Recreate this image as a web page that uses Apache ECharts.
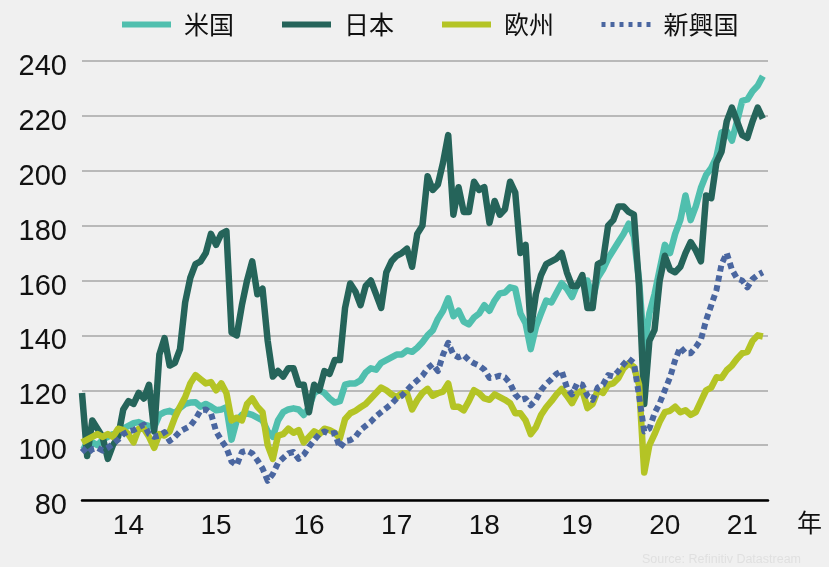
<!DOCTYPE html>
<html>
<head>
<meta charset="utf-8">
<style>
  html, body { margin: 0; padding: 0; background: #f0f0f0; }
  #chart { width: 829px; height: 567px; }
</style>
<script src="https://cdn.jsdelivr.net/npm/echarts@6/dist/echarts.min.js"></script>
</head>
<body>
<div id="chart"></div>
<script>
// Stock indices, rebased (start of 2014 ≈ 100), sampled every three weeks
const seriesNames = ['米国', '日本', '欧州', '新興国'];
const yearTicks = [2014, 2015, 2016, 2017, 2018, 2019, 2020, 2021];

const usValues = [
  100, 99, 101, 100, 102, 103, 104, 104, 106, 107, 108, 108.4, 107.5, 107, 106.5, 111, 112, 112.5, 111.6, 113.5,
  115, 115.5, 115.6, 114, 115, 114, 112.7, 113, 113.8, 102, 109, 111, 111.6, 111, 110, 109, 105, 103, 109, 112,
  113, 113.4, 113, 111, 113.8, 119, 120, 119, 117, 115.5, 116, 122, 122.5, 122.5, 123.6, 126.5, 128, 127.5, 130, 131,
  132, 133, 133, 134.5, 134, 135.5, 137.5, 140, 141.8, 146, 149, 153.5, 147, 149, 145, 144, 146.5, 148, 151, 149,
  152.7, 155.3, 155.6, 157.5, 157, 148, 144.4, 135, 143, 148, 152.7, 152, 155.5, 159, 157, 154, 158.5, 160, 160, 153,
  161, 164, 168, 171, 174, 177, 180.7, 176, 160, 135, 148, 155, 164, 173, 170, 177, 182, 191, 182, 187,
  193.8, 198.5, 201, 205, 214, 214.5, 211, 218, 225.5, 226, 229, 231, 234.5
];

const japanValues = [
  119, 96, 109, 106, 103, 95, 100, 103, 113, 116, 115, 119, 117, 122, 105, 133, 139, 129, 130, 135,
  152, 161, 166, 167, 170, 177, 173, 177, 178, 141, 140, 151, 160, 167, 155, 157, 138, 125, 127, 125,
  128, 128, 122, 122, 112, 122, 120, 127, 126, 131, 131, 150, 158.9, 156, 151, 158, 160, 155, 150, 163,
  167, 169, 170, 171.6, 165, 177, 180, 198, 193, 195, 203, 213, 184, 194, 185, 185, 196, 193, 194, 181,
  189, 184, 186, 196, 192, 170, 173, 142, 155, 162, 166, 167, 168, 170, 163, 158, 158, 162, 150, 150,
  166, 167, 180, 182, 187, 187, 185, 184, 158, 115, 138, 142, 160, 169, 164, 163, 165, 170, 174, 171,
  167, 191, 190, 203, 207, 218, 223, 218, 213, 212, 218, 223, 219
];

const europeValues = [
  101, 102, 103, 104, 103, 104, 103, 106, 105.5, 104, 101, 106, 106, 103, 99, 104, 103.5, 105, 110, 114,
  117.5, 122.5, 125.5, 124, 122.5, 123, 120, 122.5, 119, 109, 110, 109, 115, 117, 114, 112, 100, 95, 103.5, 104,
  106, 104.5, 105.5, 101, 103, 105, 104, 106, 105.5, 104.5, 102.5, 109.5, 111.6, 112.5, 113.8, 115, 117, 119, 121, 120,
  118.5, 117.5, 118.9, 118.9, 113, 116.4, 119, 120.5, 118, 118.9, 119.5, 122.5, 114, 114, 112.7, 116, 120, 118.9, 117, 116.5,
  118.5, 117.5, 116.5, 115.3, 111.6, 111.6, 109, 104, 106.5, 111, 113.8, 116, 118.5, 120.5, 118, 115.3, 118.9, 120, 113.5, 115,
  120, 119, 122, 122.5, 124.5, 128, 129.8, 128.5, 122, 90, 100, 104, 108.5, 112, 112.5, 114, 112, 112.7, 111, 112,
  116, 120, 121, 124.7, 124.5, 127.3, 129, 131.5, 133.5, 134, 138, 140, 139.6
];

const emergingValues = [
  99, 97, 98.5, 99, 98, 99, 100.5, 102, 104, 105, 105.5, 106.5, 107.5, 104, 103, 103.5, 104.7, 101.5, 103, 105,
  106, 107, 109.5, 112.7, 113, 111.6, 105, 101.8, 99, 94, 92.7, 97.5, 98, 97, 94.5, 91.5, 87, 89.5, 93.5, 95.3,
  97, 97.5, 95, 96.5, 99.3, 101.8, 104, 105, 104, 104.4, 99, 101.5, 101.8, 103, 105.5, 107, 108.5, 110.5, 112, 113.5,
  115, 117, 118, 120, 122, 123.6, 125.3, 128, 129.5, 127, 133, 137.3, 133, 132, 132.8, 131, 129.8, 129, 127.5, 124.5,
  124.7, 125.3, 124.7, 122.5, 118.5, 116.5, 117, 114.5, 116.5, 120, 122.3, 124, 126, 127, 121, 118.5, 122.5, 122, 118, 116.5,
  121, 122, 125.5, 125, 127, 129.5, 131.5, 130, 118, 105, 106, 111.6, 115.3, 120, 124.7, 131, 135.7, 133.5, 133.5, 135.7,
  138.5, 145.5, 151, 156.5, 166, 170, 164, 160.7, 160, 157.5, 160.5, 162, 163
];

// Three-week sample dates; one trailing slot leaves a small gap before the right edge
const DAY = 86400000;
const firstDate = Date.UTC(2014, 0, 3);
const dates = Array.from({ length: usValues.length + 1 }, (_, k) =>
  new Date(firstDate + k * 21 * DAY).toISOString().slice(0, 10));

// Each year label sits in the middle of that year's span on the axis
const labelIndex = {};
yearTicks.forEach(y => {
  const idx = dates.map((d, i) => (d.startsWith(String(y)) ? i : -1)).filter(i => i >= 0);
  labelIndex[Math.round((idx[0] + idx[idx.length - 1]) / 2)] = String(y).slice(2);
});

const colors = ['#50bfae', '#25645a', '#b4c425', '#4a66a0'];
const values = [usValues, japanValues, europeValues, emergingValues];
const widths = [6.5, 6.5, 6.5, 6];

const chart = echarts.init(document.getElementById('chart'), null, { renderer: 'canvas' });

chart.setOption({
  backgroundColor: '#f0f0f0',
  animation: false,
  title: {
    text: 'Source: Refinitiv Datastream',
    right: 28,
    bottom: 0,
    padding: [0, 0, 1, 0],
    textStyle: { fontSize: 12.5, fontWeight: 'normal', color: '#e0e0e0', fontFamily: 'Liberation Sans' }
  },
  legend: {
    top: 7,
    left: 114,
    itemWidth: 49,
    itemHeight: 14,
    itemGap: 45,
    textStyle: { fontSize: 25, color: '#111', fontFamily: 'Noto Sans CJK JP', padding: [0, 0, 0, 8] },
    data: seriesNames.map((n, i) => ({
      name: n,
      itemStyle: { opacity: 0 },
      lineStyle: { width: i === 3 ? 5 : 6, type: i === 3 ? [4, 5] : 'solid', cap: 'butt', opacity: 1 }
    }))
  },
  grid: { left: 82, right: 61, top: 61, bottom: 67, containLabel: false },
  xAxis: {
    type: 'category',
    data: dates,
    boundaryGap: false,
    name: '年',
    nameLocation: 'end',
    nameGap: 29,
    nameTextStyle: { fontSize: 25, color: '#111', fontFamily: 'Noto Sans CJK JP', verticalAlign: 'top', padding: [10, 0, 0, 0] },
    axisLine: { lineStyle: { color: '#000', width: 2.5 } },
    axisTick: { show: false },
    axisLabel: {
      interval: (i) => labelIndex[i] !== undefined,
      formatter: (v, i) => labelIndex[i] || '',
      fontSize: 28,
      color: '#111',
      fontFamily: 'Liberation Sans',
      margin: 12
    },
    splitLine: { show: false }
  },
  yAxis: {
    type: 'value',
    min: 80,
    max: 240,
    interval: 20,
    axisLine: { show: false },
    axisTick: { show: false },
    axisLabel: { fontSize: 29, color: '#111', fontFamily: 'Liberation Sans', margin: 15, verticalAlign: 'top', lineHeight: 12 },
    splitLine: { lineStyle: { color: '#b9b9b9', width: 2 } }
  },
  series: seriesNames.map((n, i) => ({
    name: n,
    type: 'line',
    data: values[i],
    symbol: 'none',
    color: colors[i],
    lineStyle: { width: widths[i], color: colors[i], type: i === 3 ? [6, 4] : 'solid', cap: 'butt', join: 'round' },
    z: 2 + i
  }))
});
</script>
</body>
</html>
